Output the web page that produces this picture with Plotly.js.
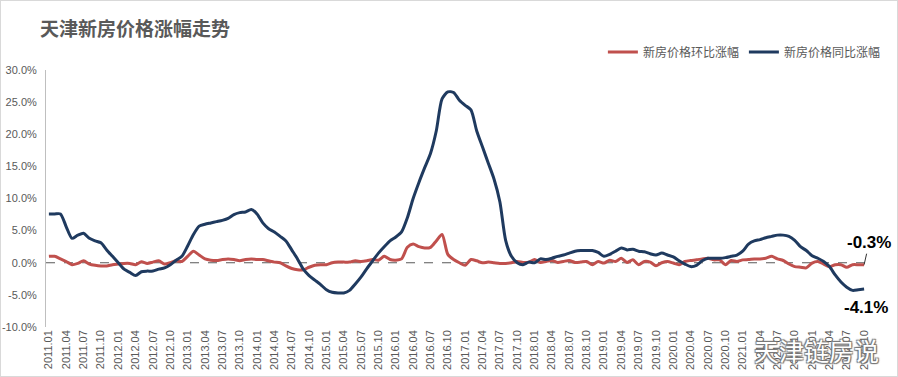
<!DOCTYPE html>
<html>
<head>
<meta charset="utf-8">
<script src="https://cdn.plot.ly/plotly-3.0.1.min.js"></script>
<style>
  html, body { margin: 0; padding: 0; background: #fff; }
  #wrap { position: relative; width: 898px; height: 377px; }
  #chart { width: 898px; height: 377px; }
  #frame { position: absolute; left: 0; top: 0; width: 898px; height: 377px; box-sizing: border-box; border: 1px solid #d9d9d9; pointer-events: none; }
</style>
</head>
<body>
<div id="wrap"><div id="chart"></div><div id="frame"></div></div>
<script>
// ---- data ----
const startYear = 2011;
const monthCount = 142; // 2011.01 - 2022.10

const seriesNames = ["新房价格环比涨幅", "新房价格同比涨幅"];

// month-on-month change (%)
const momValues = [
  1.0, 1.0, 0.6, 0.2, -0.3, -0.1, 0.3, -0.2, -0.4, -0.5, -0.5, -0.3,
  -0.2, -0.1, -0.1, -0.3, 0.15, -0.1, 0.1, 0.3, -0.2, 0.0, 0.3, 0.2,
  1.0, 1.8, 1.2, 0.6, 0.4, 0.35, 0.5, 0.6, 0.5, 0.3, 0.5, 0.6,
  0.5, 0.5, 0.3, 0.1, 0.0, -0.5, -0.9, -1.1, -1.1, -0.7, -0.4, -0.3,
  -0.3, 0.0, 0.1, 0.1, 0.1, 0.3, 0.2, 0.3, 0.5, 0.4, 1.0, 0.5,
  0.4, 0.6, 2.4, 2.9, 2.5, 2.3, 2.4, 3.4, 4.4, 1.3, 0.5, 0.0,
  -0.4, 0.5, 0.3, 0.0, 0.1, 0.0, -0.1, -0.1, 0.0, 0.2, 0.05, 0.1,
  0.5, 0.05, 0.2, 0.35, 0.05, 0.2, 0.35, 0.05, 0.1, 0.2, -0.3, 0.2,
  -0.05, 0.4, 0.2, 0.7, 0.05, 0.45, -0.3, 0.2, 0.1, -0.45, 0.0, 0.2,
  -0.05, -0.3, 0.2, 0.35, 0.45, 0.6, 0.7, 0.45, 0.45, -0.3, 0.35, 0.2,
  0.45, 0.5, 0.6, 0.6, 0.7, 1.0, 0.6, 0.35, -0.2, -0.6, -0.7, -0.8,
  -0.05, 0.2, -0.2, -0.6, -0.3, -0.3, -0.7, -0.3, -0.3, -0.3
];

// year-on-year change (%)
const yoyValues = [
  7.6, 7.6, 7.6, 5.6, 3.8, 4.3, 4.6, 3.8, 3.4, 3.1, 2.0, 1.0,
  0.0, -1.0, -1.5, -2.0, -1.4, -1.3, -1.3, -1.0, -0.8, -0.3, 0.4, 1.0,
  2.6, 4.4, 5.7, 6.0, 6.2, 6.4, 6.6, 6.9, 7.5, 7.8, 7.9, 8.3,
  7.6, 6.2, 5.3, 4.8, 4.1, 3.4, 2.0, 0.6, -1.0, -2.0, -2.7, -3.4,
  -4.2, -4.6, -4.7, -4.7, -4.3, -3.3, -2.2, -0.9, 0.3, 1.5, 2.5, 3.4,
  4.0, 4.8, 7.0, 10.0, 12.5, 14.8, 17.0, 20.5, 25.5, 26.6, 26.5, 25.3,
  24.5, 23.8, 20.5, 18.0, 15.5, 13.0, 9.5, 3.5, 1.0, 0.0, -0.3, 0.1,
  0.0, 0.6, 0.5, 0.7, 1.0, 1.2, 1.5, 1.8, 1.9, 1.9, 1.9, 1.6,
  1.0, 1.3, 1.8, 2.3, 2.0, 2.1, 1.8, 1.7, 1.4, 1.2, 1.5, 1.2,
  0.9, 0.3, -0.2, -0.6, -0.4, 0.3, 0.7, 0.7, 0.7, 0.8, 1.0, 1.2,
  1.8, 2.9, 3.4, 3.6, 3.9, 4.1, 4.3, 4.3, 4.1, 3.5, 2.5, 1.9,
  1.1, 0.7, 0.2, -0.6, -1.9, -3.0, -3.8, -4.3, -4.2, -4.1
];

const yTickVals = [-10, -5, 0, 5, 10, 15, 20, 25, 30];
const yTickText = ["-10.0%", "-5.0%", "0.0%", "5.0%", "10.0%", "15.0%", "20.0%", "25.0%", "30.0%"];

// category labels "YYYY.MM"
const categories = [];
for (let i = 0; i < monthCount; i++) {
  const y = startYear + Math.floor(i / 12);
  const m = (i % 12) + 1;
  categories.push(y + "." + (m < 10 ? "0" + m : "" + m));
}
const xTickVals = categories.filter((c, i) => i % 3 === 0);

// ---- chart ----
const latin = "Liberation Sans, Arial, Noto Sans CJK SC, sans-serif";
const cjk = "Noto Sans CJK SC, Liberation Sans, sans-serif";

const traces = [
  {
    x: categories, y: momValues, name: seriesNames[0], type: "scatter", mode: "lines",
    line: { color: "#c0504d", width: 3, shape: "spline", smoothing: 0.7 },
    hoverinfo: "skip"
  },
  {
    x: categories, y: yoyValues, name: seriesNames[1], type: "scatter", mode: "lines",
    line: { color: "#1f3a5f", width: 3, shape: "spline", smoothing: 0.7 },
    hoverinfo: "skip"
  }
];

const lastIdx = categories.length - 1;

const layout = {
  width: 898, height: 377,
  margin: { l: 46, r: 29, t: 70, b: 50, pad: 0 },
  paper_bgcolor: "#ffffff", plot_bgcolor: "#ffffff",
  title: {
    text: "<b>天津新房价格涨幅走势</b>",
    font: { family: cjk, size: 19, color: "#595959" },
    xref: "container", yref: "container",
    x: 40 / 898, xanchor: "left", y: 1 - 29 / 377, yanchor: "middle"
  },
  showlegend: true,
  legend: {
    orientation: "h", x: 1.023, xanchor: "right", y: 1.07, yanchor: "middle",
    font: { family: cjk, size: 12, color: "#595959" },
    itemwidth: 30, tracegroupgap: 0, bgcolor: "rgba(0,0,0,0)"
  },
  xaxis: {
    type: "category", range: [-0.5, monthCount - 0.5],
    tickmode: "array", tickvals: xTickVals, ticktext: xTickVals,
    tickangle: -90, ticks: "", showgrid: false, zeroline: false, showline: false,
    tickfont: { family: latin, size: 11, color: "#595959" },
    fixedrange: true
  },
  yaxis: {
    range: [-10, 30], tickmode: "array", tickvals: yTickVals, ticktext: yTickText,
    ticks: "", showgrid: false, zeroline: false,
    showline: true, linecolor: "#bfbfbf", linewidth: 1,
    tickfont: { family: latin, size: 11, color: "#595959" },
    ticklabelstandoff: 6,
    fixedrange: true
  },
  shapes: [
    { type: "line", xref: "paper", x0: 0, x1: 1, yref: "y", y0: 0, y1: 0,
      line: { color: "#595959", width: 1, dash: "dash" }, layer: "below" }
  ],
  annotations: [
    { x: lastIdx, y: momValues[lastIdx], xref: "x", yref: "y",
      text: "<b>-0.3%</b>", showarrow: true, arrowhead: 0, arrowwidth: 1, arrowcolor: "#333333",
      ax: 5, ay: -22,
      font: { family: latin, size: 17, color: "#000000" } },
    { x: lastIdx, y: yoyValues[lastIdx], xref: "x", yref: "y",
      text: "<b>-4.1%</b>", showarrow: false, xshift: 2, yshift: -18,
      font: { family: latin, size: 17, color: "#000000" } },
    { x: (818 - 46) / 823, y: (327 - 350) / 257, xref: "paper", yref: "paper",
      text: "天津链房说", showarrow: false, xanchor: "center", yanchor: "middle",
      font: { family: cjk, size: 25, color: "#ffffff",
              shadow: "1px 1px 1px #777, -1px -1px 1px #777, 1px -1px 1px #777, -1px 1px 1px #777" } }
  ]
};

Plotly.newPlot("chart", traces, layout, { displayModeBar: false, staticPlot: true });
</script>
</body>
</html>
